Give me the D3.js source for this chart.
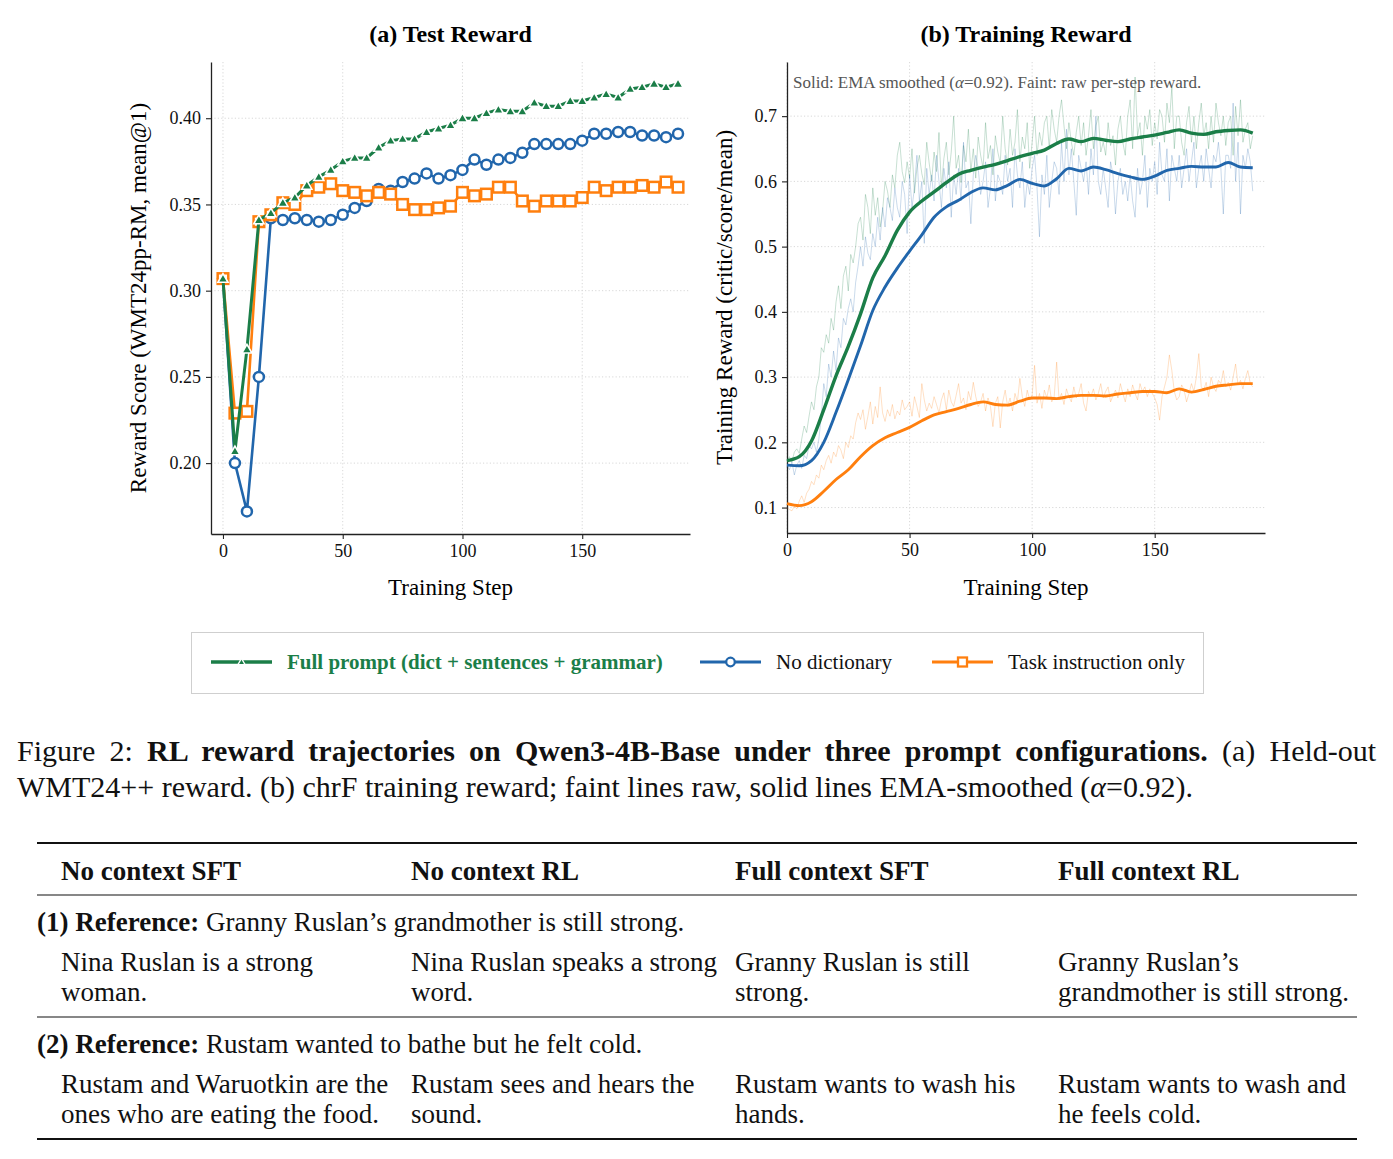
<!DOCTYPE html>
<html>
<head>
<meta charset="utf-8">
<script src="https://cdn.jsdelivr.net/npm/d3@7"></script>
<style>
  body { margin: 0; background: #fff; }
  svg { display: block; font-family: "Liberation Serif", "Times New Roman", serif; }
</style>
</head>
<body>
<svg id="fig" width="1393" height="1159"></svg>
<script>
// ---------- panel (a): held-out test reward, every 5 steps ----------
const stepsA = [0,5,10,15,20,25,30,35,40,45,50,55,60,65,70,75,80,85,90,95,100,105,110,115,120,125,130,135,140,145,150,155,160,165,170,175,180,185,190];
const testFull = [0.307,0.207,0.266,0.341,0.345,0.351,0.354,0.361,0.366,0.370,0.375,0.377,0.377,0.383,0.387,0.388,0.388,0.392,0.394,0.396,0.400,0.400,0.403,0.405,0.404,0.404,0.409,0.407,0.407,0.410,0.410,0.412,0.414,0.412,0.417,0.418,0.420,0.418,0.420];
const testNoDict = [0.307,0.200,0.172,0.250,0.342,0.341,0.342,0.341,0.340,0.341,0.344,0.348,0.352,0.359,0.358,0.363,0.365,0.368,0.365,0.367,0.370,0.376,0.373,0.376,0.377,0.380,0.385,0.385,0.385,0.385,0.387,0.391,0.391,0.392,0.392,0.390,0.390,0.389,0.391];
const testTaskOnly = [0.307,0.229,0.230,0.340,0.344,0.351,0.350,0.358,0.360,0.362,0.358,0.357,0.355,0.357,0.356,0.350,0.347,0.347,0.348,0.349,0.357,0.355,0.356,0.360,0.360,0.352,0.349,0.352,0.352,0.352,0.354,0.360,0.358,0.360,0.360,0.361,0.360,0.363,0.360];
const xTicksA = [0, 50, 100, 150];
const yTicksA = [0.20, 0.25, 0.30, 0.35, 0.40];

// ---------- panel (b): training reward, raw per step (index = step) ----------
const rawFull = [
  0.172,0.178,0.170,0.185,0.190,0.183,0.205,0.225,0.215,0.240,
  0.262,0.250,0.285,0.300,0.345,0.338,0.365,0.352,0.390,0.372,
  0.415,0.440,0.405,0.455,0.470,0.432,0.488,0.475,0.500,0.535,
  0.545,0.510,0.580,0.560,0.520,0.590,0.548,0.575,0.530,0.555,
  0.600,0.585,0.560,0.610,0.590,0.640,0.660,0.615,0.598,0.630,
  0.605,0.650,0.582,0.620,0.640,0.612,0.595,0.660,0.628,0.600,
  0.645,0.615,0.675,0.590,0.635,0.660,0.610,0.645,0.700,0.620,
  0.640,0.598,0.655,0.630,0.680,0.615,0.650,0.605,0.668,0.640,
  0.620,0.690,0.635,0.655,0.610,0.670,0.645,0.628,0.700,0.650,
  0.625,0.680,0.640,0.660,0.710,0.630,0.668,0.650,0.690,0.620,
  0.660,0.700,0.640,0.675,0.655,0.690,0.700,0.650,0.710,0.680,
  0.660,0.700,0.725,0.685,0.650,0.690,0.660,0.640,0.675,0.700,
  0.655,0.690,0.640,0.670,0.710,0.650,0.685,0.700,0.645,0.660,
  0.640,0.690,0.655,0.670,0.625,0.680,0.700,0.660,0.640,0.700,
  0.725,0.650,0.760,0.670,0.690,0.640,0.700,0.680,0.710,0.655,
  0.690,0.665,0.710,0.700,0.660,0.720,0.690,0.745,0.650,0.700,
  0.700,0.660,0.640,0.690,0.715,0.660,0.700,0.650,0.690,0.720,
  0.670,0.690,0.650,0.700,0.660,0.720,0.690,0.670,0.700,0.655,
  0.690,0.700,0.640,0.715,0.670,0.725,0.660,0.680,0.690,0.650,
  0.670];
const rawNoDict = [
  0.165,0.158,0.170,0.150,0.165,0.172,0.160,0.180,0.175,0.195,
  0.190,0.200,0.185,0.205,0.240,0.290,0.270,0.320,0.300,0.340,
  0.310,0.360,0.345,0.390,0.380,0.405,0.420,0.400,0.445,0.470,
  0.500,0.470,0.515,0.490,0.480,0.520,0.500,0.545,0.510,0.560,
  0.530,0.575,0.560,0.540,0.590,0.560,0.545,0.600,0.580,0.520,
  0.610,0.560,0.590,0.640,0.570,0.600,0.505,0.620,0.580,0.610,
  0.570,0.640,0.600,0.560,0.620,0.590,0.630,0.545,0.610,0.580,
  0.620,0.570,0.660,0.590,0.600,0.535,0.610,0.640,0.620,0.580,
  0.600,0.630,0.560,0.590,0.650,0.570,0.610,0.600,0.580,0.640,
  0.600,0.620,0.560,0.650,0.610,0.590,0.630,0.560,0.600,0.580,
  0.620,0.640,0.590,0.515,0.610,0.580,0.640,0.560,0.600,0.630,
  0.620,0.580,0.660,0.600,0.680,0.610,0.650,0.600,0.548,0.640,
  0.620,0.600,0.630,0.580,0.650,0.610,0.700,0.600,0.580,0.620,
  0.590,0.560,0.630,0.610,0.550,0.600,0.620,0.580,0.600,0.570,
  0.610,0.570,0.545,0.620,0.580,0.600,0.640,0.560,0.620,0.600,
  0.630,0.580,0.660,0.610,0.600,0.650,0.570,0.640,0.620,0.600,
  0.640,0.590,0.620,0.650,0.600,0.630,0.660,0.590,0.620,0.640,
  0.600,0.650,0.620,0.590,0.640,0.630,0.660,0.620,0.550,0.640,
  0.640,0.620,0.720,0.600,0.660,0.550,0.640,0.620,0.650,0.630,
  0.585];
const rawTaskOnly = [
  0.100,0.097,0.095,0.102,0.098,0.110,0.118,0.108,0.122,0.128,
  0.140,0.135,0.150,0.145,0.165,0.158,0.172,0.180,0.168,0.185,
  0.178,0.195,0.188,0.175,0.200,0.192,0.210,0.205,0.230,0.245,
  0.235,0.250,0.220,0.240,0.262,0.228,0.255,0.238,0.285,0.245,
  0.232,0.250,0.240,0.258,0.236,0.248,0.242,0.265,0.250,0.255,
  0.262,0.240,0.270,0.255,0.238,0.290,0.265,0.248,0.260,0.252,
  0.270,0.258,0.245,0.265,0.276,0.250,0.280,0.262,0.255,0.272,
  0.290,0.260,0.268,0.250,0.278,0.265,0.292,0.270,0.255,0.262,
  0.275,0.248,0.268,0.255,0.224,0.260,0.270,0.222,0.262,0.280,
  0.255,0.268,0.248,0.275,0.262,0.298,0.270,0.255,0.280,0.265,
  0.272,0.318,0.260,0.275,0.252,0.280,0.268,0.288,0.262,0.270,
  0.323,0.265,0.275,0.258,0.282,0.270,0.262,0.285,0.268,0.275,
  0.290,0.260,0.248,0.278,0.270,0.282,0.265,0.275,0.290,0.268,
  0.278,0.285,0.262,0.272,0.280,0.268,0.290,0.275,0.262,0.282,
  0.270,0.288,0.275,0.265,0.290,0.278,0.285,0.270,0.282,0.275,
  0.268,0.258,0.234,0.270,0.285,0.300,0.334,0.310,0.278,0.265,
  0.270,0.288,0.280,0.262,0.275,0.290,0.278,0.300,0.336,0.285,
  0.280,0.292,0.270,0.300,0.285,0.278,0.295,0.290,0.310,0.285,
  0.292,0.280,0.300,0.320,0.288,0.295,0.282,0.298,0.310,0.290,
  0.285];
const emaFull = [0.172,0.178,0.202,0.250,0.302,0.347,0.397,0.452,0.486,0.525,0.553,0.570,0.584,0.598,0.611,0.617,0.622,0.626,0.632,0.638,0.643,0.648,0.658,0.665,0.661,0.666,0.663,0.661,0.665,0.668,0.671,0.675,0.679,0.674,0.672,0.676,0.678,0.679,0.674];
const emaNoDict = [0.165,0.164,0.172,0.200,0.246,0.296,0.348,0.402,0.438,0.467,0.493,0.518,0.545,0.561,0.571,0.583,0.590,0.587,0.594,0.603,0.597,0.593,0.604,0.620,0.616,0.622,0.618,0.612,0.607,0.603,0.608,0.617,0.620,0.623,0.622,0.622,0.629,0.622,0.621];
const emaTaskOnly = [0.106,0.103,0.109,0.125,0.143,0.158,0.178,0.195,0.207,0.215,0.223,0.233,0.242,0.247,0.252,0.258,0.262,0.258,0.257,0.263,0.268,0.268,0.267,0.270,0.272,0.272,0.271,0.274,0.276,0.278,0.278,0.276,0.282,0.277,0.281,0.286,0.288,0.290,0.290];
const xTicksB = [0, 50, 100, 150];
const yTicksB = [0.1, 0.2, 0.3, 0.4, 0.5, 0.6, 0.7];

const seriesNames = ["Full prompt (dict + sentences + grammar)", "No dictionary", "Task instruction only"];
const colors = ["#1b7e48", "#2166ac", "#ff7f0e"];

// ---------- table text ----------
const tableHeader = ["No context SFT", "No context RL", "Full context SFT", "Full context RL"];
const tableRefs = [
  ["(1) Reference:", " Granny Ruslan\u2019s grandmother is still strong."],
  ["(2) Reference:", " Rustam wanted to bathe but he felt cold."]
];
const tableCells = [
  [["Nina Ruslan is a strong", "woman."], ["Nina Ruslan speaks a strong", "word."], ["Granny Ruslan is still", "strong."], ["Granny Ruslan\u2019s", "grandmother is still strong."]],
  [["Rustam and Waruotkin are the", "ones who are eating the food."], ["Rustam sees and hears the", "sound."], ["Rustam wants to wash his", "hands."], ["Rustam wants to wash and", "he feels cold."]]
];

const svg = d3.select("#fig");
const tickFont = 18, labelFont = 23, titleFont = 24;

function styleAxis(g) {
  g.selectAll(".domain").attr("stroke", "#222").attr("stroke-width", 1.3);
  g.selectAll(".tick line").attr("stroke", "#222").attr("stroke-width", 1.1);
  g.selectAll(".tick text").attr("fill", "#111").attr("font-size", tickFont)
    .attr("font-family", "Liberation Serif, Times New Roman, serif");
}

function panelFrame(box, x, y, xt, yt, fmt, title, ylab, ylabX) {
  const grid = svg.append("g");
  grid.selectAll(".gx").data(xt).join("line")
    .attr("x1", d => x(d)).attr("x2", d => x(d)).attr("y1", box.top).attr("y2", box.bottom)
    .attr("stroke", "#d4d4d4").attr("stroke-width", 0.9).attr("stroke-dasharray", "1.2,2.2");
  grid.selectAll(".gy").data(yt).join("line")
    .attr("x1", box.left).attr("x2", box.right).attr("y1", d => y(d)).attr("y2", d => y(d))
    .attr("stroke", "#d4d4d4").attr("stroke-width", 0.9).attr("stroke-dasharray", "1.2,2.2");

  svg.append("g").attr("transform", `translate(0,${box.bottom})`)
    .call(d3.axisBottom(x).tickValues(xt).tickSize(5).tickPadding(5).tickSizeOuter(0))
    .call(styleAxis);
  svg.append("g").attr("transform", `translate(${box.left},0)`)
    .call(d3.axisLeft(y).tickValues(yt).tickFormat(fmt).tickSize(5).tickPadding(5).tickSizeOuter(0))
    .call(styleAxis);

  const cx = (box.left + box.right) / 2;
  svg.append("text").attr("x", cx).attr("y", 42).attr("text-anchor", "middle")
    .attr("font-size", titleFont).attr("font-weight", "bold").text(title);
  svg.append("text").attr("x", cx).attr("y", 595).attr("text-anchor", "middle")
    .attr("font-size", labelFont).text("Training Step");
  svg.append("text")
    .attr("transform", `translate(${ylabX},${(box.top + box.bottom) / 2}) rotate(-90)`)
    .attr("text-anchor", "middle").attr("font-size", labelFont).text(ylab);
}

// ---------- panel (a) ----------
const boxA = {left: 211, right: 690, top: 62, bottom: 534};
const xA = d3.scaleLinear().domain([-5, 195]).range([boxA.left, boxA.right]);
const yA = d3.scaleLinear().domain([0.1589, 0.4326]).range([boxA.bottom, boxA.top]);
panelFrame(boxA, xA, yA, xTicksA, yTicksA, d3.format(".2f"), "(a) Test Reward", "Reward Score (WMT24pp-RM, mean@1)", 146);

const lineA = d3.line().x((d, i) => xA(stepsA[i])).y(d => yA(d));
const triangle = d3.symbol().type(d3.symbolTriangle);

// draw order: no dictionary, task instruction only, full prompt (on top)
svg.append("path").datum(testNoDict).attr("d", lineA)
  .attr("fill", "none").attr("stroke", colors[1]).attr("stroke-width", 2.6);
svg.append("g").selectAll("circle").data(testNoDict).join("circle")
  .attr("cx", (d, i) => xA(stepsA[i])).attr("cy", d => yA(d)).attr("r", 5)
  .attr("fill", "#fff").attr("stroke", colors[1]).attr("stroke-width", 2.5);

svg.append("path").datum(testTaskOnly).attr("d", lineA)
  .attr("fill", "none").attr("stroke", colors[2]).attr("stroke-width", 2.6);
svg.append("g").selectAll("rect").data(testTaskOnly).join("rect")
  .attr("x", (d, i) => xA(stepsA[i]) - 5.3).attr("y", d => yA(d) - 5.3)
  .attr("width", 10.6).attr("height", 10.6)
  .attr("fill", "#fff").attr("stroke", colors[2]).attr("stroke-width", 2.5);

svg.append("path").datum(testFull).attr("d", lineA)
  .attr("fill", "none").attr("stroke", colors[0]).attr("stroke-width", 3);
svg.append("g").selectAll("path").data(testFull).join("path")
  .attr("d", triangle.size(44))
  .attr("transform", (d, i) => `translate(${xA(stepsA[i])},${yA(d) + 0.8})`)
  .attr("fill", colors[0]).attr("stroke", "#fff").attr("stroke-width", 1.6);

// ---------- panel (b) ----------
const boxB = {left: 787, right: 1265, top: 62, bottom: 533};
const xB = d3.scaleLinear().domain([0, 195]).range([boxB.left, boxB.right]);
const yB = d3.scaleLinear().domain([0.061, 0.783]).range([boxB.bottom, boxB.top]);
panelFrame(boxB, xB, yB, xTicksB, yTicksB, d3.format(".1f"), "(b) Training Reward", "Training Reward (critic/score/mean)", 732);

const rawLine = d3.line().x((d, i) => xB(i)).y(d => yB(d));
const emaLine = d3.line().x((d, i) => xB(stepsA[i])).y(d => yB(d)).curve(d3.curveMonotoneX);

[rawFull, rawNoDict, rawTaskOnly].forEach((s, k) => {
  svg.append("path").datum(s).attr("d", rawLine)
    .attr("fill", "none").attr("stroke", colors[k]).attr("stroke-width", 1)
    .attr("stroke-opacity", 0.24);
});
[[emaTaskOnly, 2], [emaNoDict, 1], [emaFull, 0]].forEach(([s, k]) => {
  svg.append("path").datum(s).attr("d", emaLine)
    .attr("fill", "none").attr("stroke", colors[k]).attr("stroke-width", k === 0 ? 3.4 : 2.9)
    .attr("stroke-linejoin", "round");
});

const note = svg.append("text").attr("x", 793).attr("y", 88).attr("font-size", 17).attr("fill", "#555");
note.append("tspan").text("Solid: EMA smoothed (");
note.append("tspan").attr("font-style", "italic").text("\u03b1");
note.append("tspan").text("=0.92). Faint: raw per-step reward.");

// ---------- legend ----------
const legend = svg.append("g");
legend.append("rect").attr("x", 191.5).attr("y", 632.5).attr("width", 1012).attr("height", 61)
  .attr("fill", "#fff").attr("stroke", "#cfcfcf").attr("stroke-width", 1);
const legendX = [211, 700, 932];
seriesNames.forEach((name, k) => {
  const g = legend.append("g").attr("transform", `translate(${legendX[k]},662)`);
  g.append("line").attr("x1", 0).attr("x2", 61).attr("stroke", colors[k]).attr("stroke-width", k === 0 ? 3.6 : 2.8);
  if (k === 0) {
    g.append("path").attr("d", triangle.size(22)).attr("transform", "translate(30.5,0.5)")
      .attr("fill", colors[0]).attr("stroke", "#fff").attr("stroke-width", 1.3);
  } else if (k === 1) {
    g.append("circle").attr("cx", 30.5).attr("r", 4.3).attr("fill", "#fff").attr("stroke", colors[1]).attr("stroke-width", 2.3);
  } else {
    g.append("rect").attr("x", 26).attr("y", -4.5).attr("width", 9).attr("height", 9)
      .attr("fill", "#fff").attr("stroke", colors[2]).attr("stroke-width", 2.3);
  }
  g.append("text").attr("x", 76).attr("y", 7).attr("font-size", 21)
    .attr("fill", k === 0 ? colors[0] : "#111").attr("font-weight", k === 0 ? "bold" : "normal")
    .text(name);
});

// ---------- caption ----------
const capFont = 30;
const cap1 = svg.append("text").attr("x", 17).attr("y", 761).attr("font-size", capFont).attr("fill", "#111");
cap1.append("tspan").text("Figure 2: ");
cap1.append("tspan").attr("font-weight", "bold").text(" RL reward trajectories on Qwen3-4B-Base under three prompt configurations.");
cap1.append("tspan").text("  (a) Held-out");
// justify the first line to the text block width (two passes)
const spaces = (cap1.text().match(/ /g) || []).length;
let ws = 0;
for (let pass = 0; pass < 3; pass++) {
  const bb = cap1.node().getBBox();
  ws += (1377 - (bb.x + bb.width)) / spaces;
  cap1.attr("word-spacing", ws);
}

const cap2 = svg.append("text").attr("x", 17).attr("y", 797).attr("font-size", capFont).attr("fill", "#111");
cap2.append("tspan").text("WMT24++ reward. (b) chrF training reward; faint lines raw, solid lines EMA-smoothed (");
cap2.append("tspan").attr("font-style", "italic").text("\u03b1");
cap2.append("tspan").text("=0.92).");

// ---------- table ----------
const tFont = 27;
const colX = [61, 411, 735, 1058];
const rule = (y, w) => svg.append("line").attr("x1", 37).attr("x2", 1357).attr("y1", y).attr("y2", y)
  .attr("stroke", "#111").attr("stroke-width", w);
rule(843, 2.2); rule(895, 1.2); rule(1017, 1.2); rule(1139, 2.2);

tableHeader.forEach((h, j) => {
  svg.append("text").attr("x", colX[j]).attr("y", 880).attr("font-size", tFont)
    .attr("font-weight", "bold").attr("fill", "#111").text(h);
});
const refY = [931, 1053];
tableRefs.forEach((r, i) => {
  const t = svg.append("text").attr("x", 37).attr("y", refY[i]).attr("font-size", tFont).attr("fill", "#111");
  t.append("tspan").attr("font-weight", "bold").text(r[0]);
  t.append("tspan").text(r[1]);
  tableCells[i].forEach((cell, j) => {
    cell.forEach((ln, m) => {
      svg.append("text").attr("x", colX[j]).attr("y", refY[i] + 40 + m * 30)
        .attr("font-size", tFont).attr("fill", "#111").text(ln);
    });
  });
});
</script>
</body>
</html>
